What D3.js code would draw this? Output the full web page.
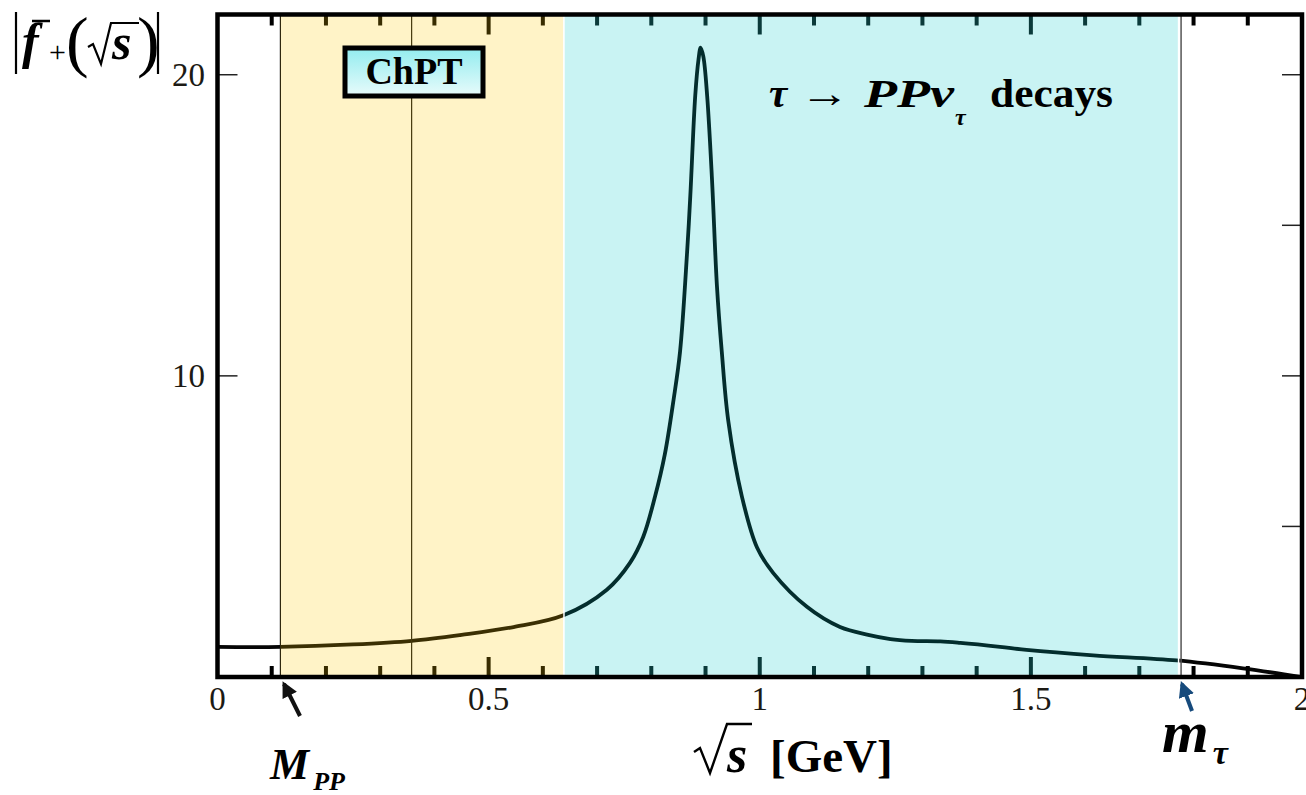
<!DOCTYPE html>
<html>
<head>
<meta charset="utf-8">
<script src="https://cdn.jsdelivr.net/npm/d3@7"></script>
<style>
  html, body { margin: 0; padding: 0; background: #fff; }
  svg { display: block; }
  svg text { font-family: "Liberation Serif", "Times New Roman", "DejaVu Serif", serif; }
</style>
</head>
<body>
<div id="chart"></div>
<script>
// form factor modulus
const sqrtS = [0, 0.116, 0.25, 0.358, 0.45, 0.546, 0.638, 0.718, 0.761, 0.785, 0.807, 0.825,
  0.841, 0.853, 0.866, 0.872, 0.881, 0.887, 0.891, 0.896, 0.903, 0.912, 0.921, 0.930, 0.942,
  0.967, 0.995, 1.025, 1.087, 1.148, 1.20, 1.241, 1.28, 1.333, 1.37, 1.443, 1.492, 1.615,
  1.769, 1.891, 1.997]
const fplus = [1.0, 1.0, 1.08, 1.2, 1.4, 1.66, 2.05, 2.9, 3.8, 4.65, 6.0, 7.4,
  9.2, 10.8, 14.1, 16.0, 19.3, 20.5, 20.9, 20.6, 19.3, 16.5, 13.0, 10.8, 8.5,
  6.0, 4.3, 3.45, 2.33, 1.66, 1.4, 1.26, 1.2, 1.18, 1.13, 1.0, 0.9, 0.72,
  0.55, 0.29, 0.0]

const xTicks = d3.range(1, 20).map(i => i / 10)
const xLabels = [0, 0.5, 1, 1.5, 2]
const yMajor = [10, 20]
const yRightTicks = [5, 10, 15, 20]

const mPP = 0.116, chptEnd = 0.638, chptMid = 0.358, mTau = 1.777

const W = 1306, H = 795
const margin = {top: 14.5, right: 4, bottom: 118, left: 217.5}

const svg = d3.select("#chart").append("svg")
  .attr("width", W).attr("height", H)

const x = d3.scaleLinear().domain([0, 2]).range([margin.left, W - margin.right])
const y = d3.scaleLinear().domain([0, 22]).range([H - margin.bottom, margin.top])

const defs = svg.append("defs")
const grad = defs.append("linearGradient").attr("id", "boxg")
  .attr("x1", 0).attr("y1", 0).attr("x2", 0).attr("y2", 1)
grad.append("stop").attr("offset", "0%").attr("stop-color", "#92ecef")
grad.append("stop").attr("offset", "100%").attr("stop-color", "#e8fbfb")

function arrowMarker(id, color) {
  defs.append("marker").attr("id", id)
    .attr("viewBox", "0 0 10 10").attr("refX", 8).attr("refY", 5)
    .attr("markerWidth", 4).attr("markerHeight", 4).attr("orient", "auto")
    .append("path").attr("d", "M0,0 L10,5 L0,10 z").attr("fill", color)
}
arrowMarker("ablack", "#111")
arrowMarker("ablue", "#164a7c")

const y0 = y(0), yTop = y(22)
const isMajor = d => Math.round(d * 10) % 5 === 0
// mark colour as seen through the tinted bands
const inkAt = v => v < mPP ? "#000" : v < chptEnd ? "#382c00" : v < mTau ? "#0a3a3a" : "#000"

// curve
const line = d3.line()
  .x((d, i) => x(sqrtS[i]))
  .y(d => y(d))
  .curve(d3.curveCatmullRom.alpha(0.5))

svg.append("path")
  .datum(fplus)
  .attr("d", line)
  .attr("fill", "none")
  .attr("stroke", "#050505")
  .attr("stroke-width", 3.8)

// thin vertical guide lines
;[mPP, chptMid].forEach(v => {
  svg.append("line")
    .attr("x1", x(v)).attr("x2", x(v)).attr("y1", yTop).attr("y2", y0)
    .attr("stroke", "#111").attr("stroke-width", 1.2)
})

// shaded regions (translucent, so the curve shows through tinted)
svg.append("rect")
  .attr("x", x(mPP)).attr("y", yTop)
  .attr("width", x(chptEnd) - x(mPP)).attr("height", y0 - yTop)
  .attr("fill", "rgb(255,200,0)").attr("fill-opacity", 0.22)
svg.append("rect")
  .attr("x", x(chptEnd) + 0.5).attr("y", yTop)
  .attr("width", x(mTau) - x(chptEnd) - 3).attr("height", y0 - yTop - 1.5)
  .attr("fill", "rgb(0,200,200)").attr("fill-opacity", 0.21)
  .attr("stroke", "#fff").attr("stroke-width", 1.5)

svg.append("line")
  .attr("x1", x(mTau)).attr("x2", x(mTau)).attr("y1", yTop).attr("y2", y0)
  .attr("stroke", "#555").attr("stroke-width", 1.5)

// ticks along bottom and top
const tickG = svg.append("g")
xTicks.forEach(d => {
  const len = isMajor(d) ? 20 : 11
  tickG.append("line")
    .attr("x1", x(d)).attr("x2", x(d)).attr("y1", y0).attr("y2", y0 - len)
    .attr("stroke", inkAt(d)).attr("stroke-width", 4)
  tickG.append("line")
    .attr("x1", x(d)).attr("x2", x(d)).attr("y1", yTop).attr("y2", yTop + len)
    .attr("stroke", inkAt(d)).attr("stroke-width", 4)
})

// y ticks
yMajor.forEach(d => {
  tickG.append("line")
    .attr("x1", x(0)).attr("x2", x(0) + 20).attr("y1", y(d)).attr("y2", y(d))
    .attr("stroke", "#222").attr("stroke-width", 1.5)
})
yRightTicks.forEach(d => {
  tickG.append("line")
    .attr("x1", x(2)).attr("x2", x(2) - 20).attr("y1", y(d)).attr("y2", y(d))
    .attr("stroke", "#222").attr("stroke-width", 1.5)
})

// frame
svg.append("rect")
  .attr("x", x(0)).attr("y", yTop)
  .attr("width", x(2) - x(0)).attr("height", y0 - yTop)
  .attr("fill", "none").attr("stroke", "#000").attr("stroke-width", 4.5)

// tick labels
svg.append("g").selectAll("text").data(xLabels).enter().append("text")
  .attr("x", d => x(d)).attr("y", 710)
  .attr("text-anchor", "middle")
  .attr("font-size", 33).attr("fill", "#1c1a14")
  .text(d => d)
svg.append("g").selectAll("text").data(yMajor).enter().append("text")
  .attr("x", 205).attr("y", d => y(d) + 11)
  .attr("text-anchor", "end")
  .attr("font-size", 33).attr("fill", "#1c1a14")
  .text(d => d)

// y axis title |f+(sqrt s)|
const yt = svg.append("g")
yt.append("line").attr("x1", 16).attr("x2", 16).attr("y1", 12).attr("y2", 74)
  .attr("stroke", "#000").attr("stroke-width", 2.2)
yt.append("line").attr("x1", 158).attr("x2", 158).attr("y1", 12).attr("y2", 74)
  .attr("stroke", "#000").attr("stroke-width", 2.2)
yt.append("text").attr("x", 22).attr("y", 58)
  .attr("font-size", 50).attr("font-weight", "bold").attr("font-style", "italic").text("f")
yt.append("line").attr("x1", 32).attr("x2", 50).attr("y1", 21).attr("y2", 21)
  .attr("stroke", "#000").attr("stroke-width", 2.5)
yt.append("text").attr("x", 49).attr("y", 62).attr("font-size", 30).text("+")
yt.append("text").attr("x", 66).attr("y", 64).attr("font-size", 68).text("(")
yt.append("path").attr("d", "M88,47 L93,44 L101,64 L111,23 L139,23")
  .attr("fill", "none").attr("stroke", "#000").attr("stroke-width", 2.2)
  .attr("stroke-linejoin", "miter")
yt.append("text").attr("x", 112).attr("y", 59)
  .attr("font-size", 50).attr("font-weight", "bold").attr("font-style", "italic").text("s")
yt.append("text").attr("x", 137).attr("y", 64).attr("font-size", 68).text(")")

// ChPT box
svg.append("rect").attr("x", 345).attr("y", 48).attr("width", 138).attr("height", 48)
  .attr("fill", "url(#boxg)").attr("stroke", "#000").attr("stroke-width", 5)
svg.append("text").attr("x", 414).attr("y", 84).attr("text-anchor", "middle")
  .attr("font-size", 38).attr("font-weight", "bold").text("ChPT")

// decay label
const dl = svg.append("text").attr("y", 107)
  .attr("font-size", 41).attr("font-weight", "bold")
dl.append("tspan").attr("x", 769).attr("font-style", "italic").text("τ")
dl.append("tspan").attr("x", 800).attr("font-weight", "normal")
  .attr("textLength", 50).attr("lengthAdjust", "spacingAndGlyphs").text("→")
dl.append("tspan").attr("x", 864).attr("font-style", "italic")
  .attr("textLength", 90).attr("lengthAdjust", "spacingAndGlyphs").text("PPν")
dl.append("tspan").attr("x", 955).attr("font-style", "italic").attr("font-size", 24)
  .attr("dy", 18).text("τ")
dl.append("tspan").attr("x", 990).attr("dy", -18)
  .attr("textLength", 123).attr("lengthAdjust", "spacingAndGlyphs").text("decays")

// x axis title
svg.append("path").attr("d", "M694,752 L700,748 L710,773 L727,724 L752,724")
  .attr("fill", "none").attr("stroke", "#000").attr("stroke-width", 2.4)
svg.append("text").attr("x", 727).attr("y", 772)
  .attr("font-size", 52).attr("font-weight", "bold").attr("font-style", "italic").text("s")
svg.append("text").attr("x", 770).attr("y", 772)
  .attr("font-size", 47).attr("font-weight", "bold").text("[GeV]")

// M_PP and m_tau markers
svg.append("line").attr("x1", 300).attr("y1", 716).attr("x2", 284).attr("y2", 684)
  .attr("stroke", "#111").attr("stroke-width", 4).attr("marker-end", "url(#ablack)")
svg.append("line").attr("x1", 1192).attr("y1", 711).attr("x2", 1182).attr("y2", 684)
  .attr("stroke", "#164a7c").attr("stroke-width", 4).attr("marker-end", "url(#ablue)")

const mp = svg.append("text").attr("x", 270).attr("y", 779)
  .attr("font-size", 44).attr("font-weight", "bold").attr("font-style", "italic")
mp.append("tspan").text("M")
mp.append("tspan").attr("font-size", 26).attr("dy", 11).attr("dx", 4).text("PP")

const mt = svg.append("text").attr("x", 1162).attr("y", 752)
  .attr("font-size", 60).attr("font-weight", "bold").attr("font-style", "italic")
mt.append("tspan").text("m")
mt.append("tspan").attr("font-size", 34).attr("dy", 12).attr("dx", 4).text("τ")
</script>
</body>
</html>
